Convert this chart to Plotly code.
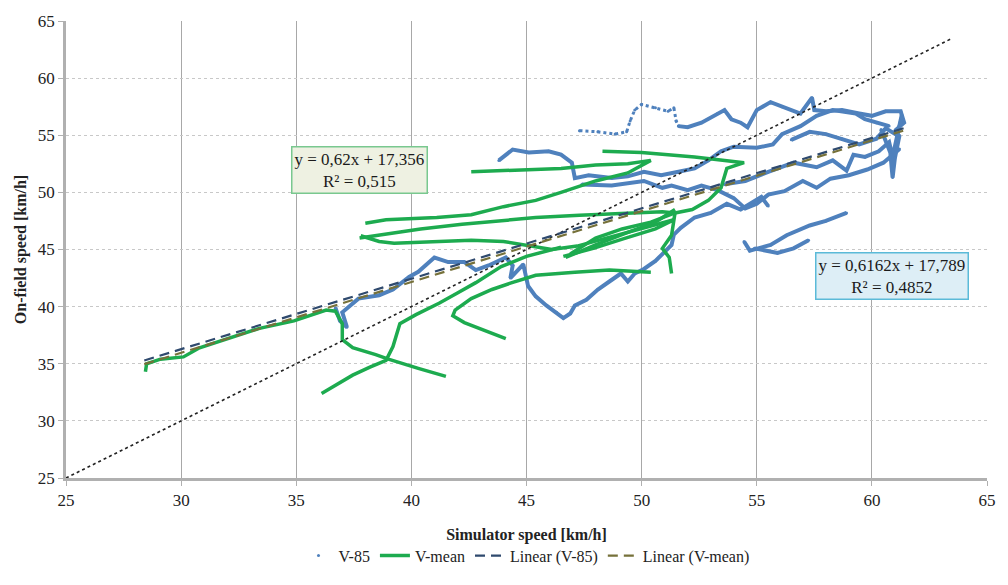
import plotly.graph_objects as go

# ---------------- data ----------------
# V-mean trajectories (green)
g1_x = [28.45, 28.5, 29.1, 30.1, 30.8, 32.0, 33.4, 34.9, 36.3, 36.7, 37.0, 37.0, 37.45, 38.45, 39.0, 40.3, 41.5]
g1_y = [34.3, 35.0, 35.4, 35.6, 36.4, 37.2, 38.1, 38.75, 39.7, 39.6, 38.5, 37.1, 36.4, 35.8, 35.4, 34.6, 33.9]
g2_x = [36.1, 36.8, 37.45, 38.2, 38.9, 39.2, 39.5, 40.2, 41.2, 42.0, 42.8, 43.9, 45.0, 46.5]
g2_y = [32.4, 33.2, 34.0, 34.7, 35.3, 36.5, 38.5, 39.3, 40.3, 41.2, 42.1, 43.5, 44.4, 45.2]
g3_x = [38.0, 38.9, 41.1, 42.6, 44.0, 45.4, 46.5, 48.0, 49.4, 50.4, 49.4, 48.0, 46.5, 45.1, 43.7, 42.6]
g3_y = [47.3, 47.6, 47.8, 48.05, 48.75, 49.3, 50.0, 51.0, 51.7, 52.8, 52.5, 52.4, 52.1, 52.0, 51.9, 51.8]
g4_x = [48.3, 50.0, 52.3, 53.7, 54.45, 53.7, 53.45, 52.9, 52.2, 51.45, 50.4, 49.15, 48.0, 46.9]
g4_y = [53.6, 53.5, 53.1, 52.8, 52.6, 52.1, 50.4, 49.3, 48.5, 48.2, 47.4, 46.8, 46.0, 44.6]
g5_x = [37.75, 39.0, 40.4, 42.2, 44.0, 45.4, 47.3, 49.4, 50.9, 51.45]
g5_y = [46.0, 46.4, 46.8, 47.2, 47.5, 47.8, 48.0, 48.2, 48.3, 48.2]
g6_x = [37.8, 38.6, 39.25, 41.1, 42.6, 44.0, 44.9, 46.1, 47.2, 48.5, 50.0, 51.4]
g6_y = [46.2, 45.7, 45.55, 45.7, 45.8, 45.7, 45.4, 45.0, 45.3, 46.0, 46.8, 47.6]
g7_x = [44.1, 43.2, 42.3, 41.8, 41.9, 42.6, 43.5, 44.3, 45.4, 47.1, 48.6, 50.4]
g7_y = [37.2, 37.9, 38.6, 39.2, 39.7, 40.7, 41.5, 42.05, 42.75, 43.0, 43.2, 43.0]
g8_x = [46.6, 47.9, 49.3, 50.6, 51.4, 51.45, 51.3, 50.9, 51.2, 51.3]
g8_y = [44.4, 45.1, 46.0, 46.8, 47.6, 48.2, 46.25, 45.1, 44.3, 42.9]
g9_x = [46.7, 48.0, 49.4, 50.6, 51.45]
g9_y = [44.3, 45.4, 46.5, 47.4, 48.5]

# V-85 trajectories (blue)
b1_x = [36.7, 36.9, 37.2, 37.0, 37.7, 38.6, 39.2, 39.9, 40.3, 41.0, 41.6, 42.3, 42.8, 43.35, 44.1, 44.4, 44.3,
        44.86, 45.07, 45.4, 45.86, 46.3, 46.6, 46.9, 47.1, 47.6, 48.1, 48.6, 49.1, 49.4, 49.7, 50.1, 50.6, 50.9,
        51.3, 51.4, 51.7, 52.3, 53.0, 53.7, 54.3, 55.2, 55.5]
b1_y = [39.9, 38.75, 38.2, 39.5, 40.7, 41.0, 41.5, 42.6, 43.05, 44.3, 43.9, 43.9, 43.2, 43.6, 44.3, 43.6, 42.5,
        43.7, 41.8, 40.9, 40.1, 39.5, 39.0, 39.4, 40.1, 40.6, 41.5, 42.2, 42.9, 42.2, 42.9, 43.3, 44.0, 44.6,
        45.4, 46.3, 46.9, 47.8, 48.2, 49.0, 48.5, 49.6, 48.8]
b2_x = [43.8, 44.4, 45.1, 45.96, 46.5, 46.97, 47.1, 47.7, 48.7, 49.4, 50.1, 50.85, 51.6, 52.3, 52.9, 53.45,
        54.0, 55.0, 55.7, 56.1, 56.9, 57.6, 58.3, 59.3, 59.7, 60.2, 60.75]
b2_y = [52.8, 53.75, 53.5, 53.6, 53.3, 52.6, 51.25, 51.5, 51.25, 51.4, 51.8, 51.5, 51.8, 52.1, 52.8, 53.6,
        54.0, 53.9, 54.2, 55.1, 55.8, 56.7, 57.2, 56.9, 56.4, 56.1, 55.8]
b3_x = [47.4, 48.7, 50.1, 50.9, 51.3, 52.0, 52.6, 53.3, 54.0, 54.5, 55.0, 55.5, 56.2, 57.0, 57.6, 58.2,
        59.0, 59.8, 60.5, 61.2]
b3_y = [50.7, 50.6, 51.0, 50.4, 50.6, 50.2, 50.6, 50.2, 49.5, 48.6, 49.0, 49.8, 50.1, 51.0, 50.4, 51.2,
        51.5, 52.0, 52.6, 53.8]
b4_x = [53.6, 54.5, 55.5, 56.6, 57.6, 58.3, 58.9, 59.2, 59.7, 60.3, 60.75, 60.9, 61.3]
b4_y = [50.7, 51.0, 51.8, 52.6, 52.2, 52.8, 51.9, 53.3, 53.1, 53.6, 54.4, 53.1, 56.8]
b5_x = [51.6, 52.0, 52.6, 53.3, 53.6, 53.9, 54.3, 54.6, 55.0, 55.6, 56.1, 56.9, 57.4, 57.5, 58.0, 58.7,
        59.45, 60.0, 60.6, 61.25, 61.4, 61.0]
b5_y = [55.8, 55.7, 56.1, 56.9, 57.2, 56.4, 56.1, 55.7, 57.2, 57.9, 57.5, 56.9, 58.3, 57.2, 57.1, 57.2,
        56.9, 56.7, 57.1, 57.1, 56.1, 55.4]
b6_x = [56.5, 57.3, 58.0, 58.7, 59.45, 60.2, 60.6, 61.1, 61.3]
b6_y = [54.6, 55.3, 55.1, 54.7, 54.2, 54.7, 55.6, 55.0, 56.5]
b7_x = [60.4, 60.8, 60.9, 61.0, 61.2]
b7_y = [55.5, 53.5, 51.3, 53.0, 55.0]
b8_x = [54.45, 54.7, 55.6, 56.3, 57.3, 58.0, 58.9]
b8_y = [45.7, 44.9, 45.4, 46.25, 47.1, 47.5, 48.2]
b9_x = [54.9, 55.9, 56.6, 57.25]
b9_y = [45.1, 44.7, 45.1, 45.8]
# sparse dotted part of V-85
bs_x = [47.3, 48.1, 48.85, 49.35, 49.5, 49.7, 50.0, 50.6, 51.15, 51.4, 51.5, 51.6]
bs_y = [55.4, 55.3, 55.1, 55.3, 56.25, 57.2, 57.7, 57.4, 57.1, 57.4, 56.25, 55.8]

# trend lines (coefficients from the chart labels) and fitted range
trend_v85 = (0.6162, 17.789)
trend_vmean = (0.62, 17.356)
trend_x_range = [28.4, 61.4]
diag_range = [25, 63.5]

x_ticks = [25, 30, 35, 40, 45, 50, 55, 60, 65]
y_ticks = [25, 30, 35, 40, 45, 50, 55, 60, 65]

BLUE = "#4F81BD"
GREEN = "#1DAB4F"
SERIF = "Liberation Serif"


def join(xs, ys):
    ox, oy = [], []
    for a, b in zip(xs, ys):
        ox += a + [None]
        oy += b + [None]
    return ox, oy


green_x, green_y = join([g1_x, g2_x, g3_x, g4_x, g5_x, g6_x, g7_x, g8_x, g9_x],
                        [g1_y, g2_y, g3_y, g4_y, g5_y, g6_y, g7_y, g8_y, g9_y])
blue_x, blue_y = join([b1_x, b2_x, b3_x, b4_x, b5_x, b6_x, b7_x, b8_x, b9_x],
                      [b1_y, b2_y, b3_y, b4_y, b5_y, b6_y, b7_y, b8_y, b9_y])

fig = go.Figure()

# V-85 (dense dots rendered as a thick line)
fig.add_trace(go.Scatter(x=blue_x, y=blue_y, mode="lines", showlegend=False, hoverinfo="skip",
                         line=dict(color=BLUE, width=4)))
fig.add_trace(go.Scatter(x=bs_x, y=bs_y, mode="lines", showlegend=False, hoverinfo="skip",
                         line=dict(color=BLUE, width=3, dash="dot")))
fig.add_trace(go.Scatter(x=blue_x + bs_x, y=blue_y + bs_y, mode="markers", name="V-85",
                         marker=dict(color=BLUE, size=3)))
# V-mean
fig.add_trace(go.Scatter(x=green_x, y=green_y, mode="lines", name="V-mean",
                         line=dict(color=GREEN, width=3.5)))
# diagonal y = x
fig.add_trace(go.Scatter(x=diag_range, y=diag_range, mode="lines", showlegend=False,
                         line=dict(color="#222222", width=1.6, dash="dot")))
# trend lines
fig.add_trace(go.Scatter(x=trend_x_range, y=[trend_v85[0] * v + trend_v85[1] for v in trend_x_range],
                         mode="lines", name="Linear (V-85)",
                         line=dict(color="#2F4A6E", width=2.2, dash="10px,6px")))
fig.add_trace(go.Scatter(x=trend_x_range, y=[trend_vmean[0] * v + trend_vmean[1] for v in trend_x_range],
                         mode="lines", name="Linear (V-mean)",
                         line=dict(color="#76713A", width=2.2, dash="10px,6px")))

fig.add_annotation(x=37.76, y=51.95, xref="x", yref="y", showarrow=False,
                   text="y = 0,62x + 17,356<br>R² = 0,515",
                   font=dict(family=SERIF, size=17, color="#1a1a1a"),
                   bgcolor="#EEF1E2", bordercolor="#79C88F", borderwidth=1.5, borderpad=2)
fig.add_annotation(x=60.86, y=42.7, xref="x", yref="y", showarrow=False,
                   text="y = 0,6162x + 17,789<br>R² = 0,4852",
                   font=dict(family=SERIF, size=17, color="#1a1a1a"),
                   bgcolor="#DDEEF6", bordercolor="#5BBAD8", borderwidth=1.5, borderpad=2)

fig.update_layout(
    width=1008, height=585,
    margin=dict(l=66, r=14, t=12, b=93),
    plot_bgcolor="white", paper_bgcolor="white",
    font=dict(family=SERIF, size=17, color="#222222"),
    showlegend=True,
    legend=dict(orientation="h", x=0.5, xanchor="center", y=-0.17, yanchor="middle",
                font=dict(family=SERIF, size=16), itemwidth=30, tracegroupgap=0),
    xaxis=dict(range=[25, 65], tickvals=x_ticks, ticktext=[str(v) for v in x_ticks],
               showgrid=True, gridcolor="#A8A8A8", gridwidth=1,
               showline=True, linecolor="#B0B0B0", linewidth=2.5,
               ticks="outside", ticklen=5, tickcolor="#B0B0B0",
               zeroline=False,
               title=dict(text="<b>Simulator speed [km/h]</b>", standoff=20,
                          font=dict(family=SERIF, size=16))),
    yaxis=dict(range=[25, 65], tickvals=y_ticks, ticktext=[str(v) for v in y_ticks],
               showgrid=True, gridcolor="#C8C8C8", gridwidth=1, griddash="dot",
               showline=True, linecolor="#B0B0B0", linewidth=2.5,
               ticks="outside", ticklen=5, tickcolor="#B0B0B0",
               zeroline=False,
               title=dict(text="<b>On-field speed [km/h]</b>", standoff=8,
                          font=dict(family=SERIF, size=16))),
)

fig.write_html("out.html")
